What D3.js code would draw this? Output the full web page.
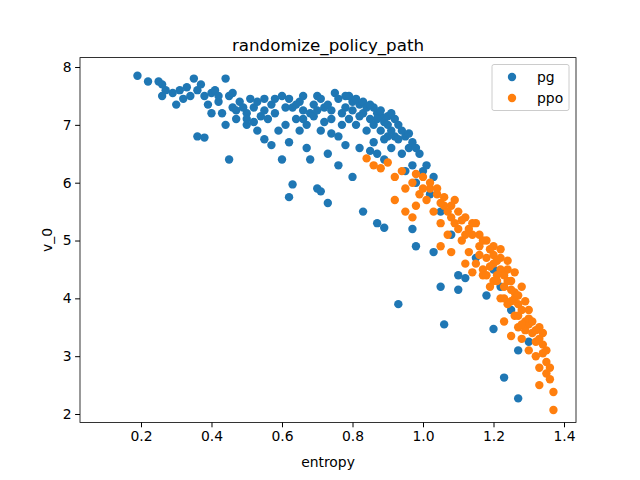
<!DOCTYPE html>
<html><head><meta charset="utf-8">
<script src="https://cdn.jsdelivr.net/npm/d3@7"></script>
<style>body{margin:0;background:#fff}text{font-family:"DejaVu Sans",sans-serif}</style>
</head><body><svg id="c" width="640" height="480"></svg>
<script>
// values: [entropy, v_0]
var pg = [[0.19,7.85],[0.22,7.75],[0.25,7.75],[0.26,7.7],[0.27,7.6],[0.26,7.5],[0.29,7.55],[0.3,7.35],[0.31,7.6],[0.32,7.45],[0.33,7.65],[0.35,7.8],[0.36,7.6],[0.37,7.7],[0.38,7.5],[0.4,7.55],[0.39,7.35],[0.41,7.6],[0.42,7.4],[0.43,7.2],[0.44,7.8],[0.45,7.5],[0.46,7.3],[0.47,7.1],[0.48,7.4],[0.5,7.2],[0.5,7.0],[0.52,7.3],[0.53,6.9],[0.55,7.45],[0.56,7.1],[0.57,6.65],[0.58,7.2],[0.6,7.5],[0.61,7.0],[0.62,6.7],[0.63,7.3],[0.65,7.4],[0.66,7.1],[0.67,6.6],[0.68,7.2],[0.7,7.5],[0.71,6.9],[0.72,7.3],[0.73,6.5],[0.74,7.1],[0.75,7.55],[0.76,6.8],[0.78,7.3],[0.8,7.4],[0.81,7.0],[0.82,6.6],[0.83,7.2],[0.85,7.1],[0.86,6.7],[0.87,7.2],[0.88,6.9],[0.89,6.4],[0.9,7.0],[0.91,6.6],[0.92,6.8],[0.94,6.5],[0.95,6.2],[0.96,6.6],[0.97,6.3],[0.98,6.0],[1.0,6.2],[1.02,5.8],[1.05,5.5],
  [0.36,6.8],[0.38,6.78],[0.45,6.4],[0.62,5.75],[0.63,5.97],[0.7,5.9],[0.71,5.85],[0.73,5.65],[0.83,5.5],[0.87,5.3],[0.89,5.22],[0.93,3.9],[0.97,5.2],[0.98,4.9],[1.03,4.8],[1.05,4.2],[1.06,3.55],[1.1,4.4],[1.1,4.15],[1.12,4.35],[1.18,4.05],[1.2,3.47],[1.23,2.63],[1.27,2.27],[1.27,3.1],[1.3,3.25],[1.08,5.1],[1.15,4.7],[1.2,4.5],[1.22,4.2],[1.25,3.8],
  [0.34,7.5],[0.4,7.2],[0.44,7.0],[0.49,7.3],[0.51,7.45],[0.54,7.15],[0.57,7.35],[0.59,6.9],[0.6,6.4],[0.64,7.1],[0.66,7.5],[0.69,7.35],[0.72,7.05],[0.77,7.2],[0.79,7.5],[0.82,7.35],[0.84,6.9],[0.86,7.3],[0.88,7.15],[0.9,6.8],[0.93,7.0],[0.95,6.8],[0.99,6.5],[1.01,6.3],[1.03,6.1],[0.8,6.1],[0.76,6.3],[0.68,6.4],
  [0.42,7.5],[0.46,7.55],[0.47,7.25],[0.5,7.1],[0.52,7.05],[0.53,7.4],[0.55,7.25],[0.58,7.45],[0.61,7.3],[0.62,7.45],[0.64,7.35],[0.66,7.25],[0.67,7.0],[0.69,7.15],[0.7,7.25],[0.71,7.45],[0.73,7.35],[0.74,7.25],[0.76,7.45],[0.77,7.0],[0.78,7.5],[0.79,7.1],[0.8,7.25],[0.81,7.45],[0.82,7.15],[0.83,7.4],[0.84,7.3],[0.85,7.35],[0.86,7.0],[0.87,7.1],[0.88,7.25],[0.89,7.05],[0.9,7.15],[0.91,6.9],[0.92,7.1],[0.93,6.75],[0.94,6.9],[0.96,6.85],[0.97,6.7],[0.98,6.6],[0.91,7.2],[0.89,6.75],[0.87,6.5],[0.85,6.55],[0.78,6.65],[0.74,6.85],[0.65,6.9],[0.55,6.75]];
var ppo = [[0.84,6.42],[0.86,6.3],[0.88,6.25],[0.9,6.35],[0.92,6.1],[0.94,6.2],[0.95,5.9],[0.97,6.0],[0.98,5.6],[0.99,5.8],[1.0,6.1],[1.01,5.7],[1.02,5.9],[1.03,5.5],[1.04,5.8],[1.05,5.3],[1.06,5.6],[1.07,5.1],[1.08,5.4],[1.09,5.7],[1.1,5.2],[1.11,5.0],[1.12,5.4],[1.13,4.8],[1.14,5.1],[1.15,4.6],[1.15,5.3],[1.16,4.9],[1.17,4.4],[1.18,4.7],[1.18,5.0],[1.19,4.2],[1.2,4.6],[1.2,4.9],[1.21,4.4],[1.22,4.0],[1.22,4.7],[1.23,4.2],[1.24,4.5],[1.24,3.9],[1.25,4.3],[1.26,3.7],[1.26,4.1],[1.27,3.5],[1.27,3.9],[1.28,4.2],[1.28,3.3],[1.29,3.6],[1.3,3.8],[1.3,3.1],[1.31,3.4],[1.32,3.0],[1.33,3.5],[1.33,2.8],[1.34,3.2],[1.35,2.7],[1.35,2.9],[1.36,2.6],[1.37,2.38],[1.37,2.07],[1.33,2.5],[1.05,4.9],[1.08,4.8],[1.12,4.6],[0.95,5.5],[0.92,5.7],[0.97,5.4],[1.14,4.45],[1.17,4.5],[1.2,4.3],[1.23,3.6],[1.25,3.35],[1.3,3.55],[1.32,3.25],
  [1.02,6.0],[1.04,5.9],[1.06,5.75],[1.08,5.6],[1.1,5.5],[1.11,5.35],[1.13,5.2],[1.14,5.3],[1.16,5.1],[1.17,5.0],[1.19,4.85],[1.2,4.75],[1.21,4.65],[1.22,4.5],[1.23,4.4],[1.24,4.3],[1.25,4.15],[1.26,4.0],[1.27,4.05],[1.28,3.8],[1.29,3.95],[1.29,3.45],[1.3,3.65],[1.31,3.6],[1.32,3.45],[1.33,3.3],[1.34,3.05],[1.34,3.4],[1.35,3.1],[1.36,2.8],[1.21,4.3],[1.23,4.0],[1.25,3.95],[1.27,3.7],[1.19,4.55],[1.16,4.75],[1.26,4.45],[1.24,4.65],[1.22,4.85],[1.12,5.1],[1.09,5.3],[1.07,5.5],[1.05,5.65],[1.0,5.9],[0.98,6.15],[1.18,4.4],[1.28,3.55]];
var xTicks = [0.2,0.4,0.6,0.8,1.0,1.2,1.4];
var yTicks = [2,3,4,5,6,7,8];

var svg = d3.select('#c');
var L=80,R=576,T=57.6,B=422.4;
var x = d3.scaleLinear().domain([0.027,1.434]).range([L,R]);
var y = d3.scaleLinear().domain([1.855,8.163]).range([B,T]);

function dots(data,color){
  svg.append('g').selectAll('circle').data(data).enter().append('circle')
    .attr('cx',function(d){return x(d[0])}).attr('cy',function(d){return y(d[1])})
    .attr('r',4.2).attr('fill',color);
}
dots(pg,'#1f77b4');
dots(ppo,'#ff7f0e');

var xa = svg.append('g').attr('transform','translate(0,'+B+')')
  .call(d3.axisBottom(x).tickValues(xTicks).tickFormat(d3.format('.1f')).tickSizeOuter(0).tickSize(4.9).tickPadding(3.5));
var ya = svg.append('g').attr('transform','translate('+L+',0)')
  .call(d3.axisLeft(y).tickValues(yTicks).tickFormat(d3.format('d')).tickSizeOuter(0).tickSize(4.9).tickPadding(3.5));
[xa,ya].forEach(function(a){a.selectAll('text').attr('font-size',13.9).attr('fill','#000');a.select('.domain').remove();});
svg.append('rect').attr('x',L).attr('y',T).attr('width',R-L).attr('height',B-T)
  .attr('fill','none').attr('stroke','#000').attr('stroke-width',0.8);

svg.append('text').attr('x',(L+R)/2).attr('y',T-7).attr('text-anchor','middle').attr('font-size',16.7).text('randomize_policy_path');
svg.append('text').attr('x',(L+R)/2).attr('y',467).attr('text-anchor','middle').attr('font-size',13.9).text('entropy');
svg.append('text').attr('transform','translate(52,'+(T+B)/2+') rotate(-90)').attr('text-anchor','middle').attr('font-size',13.9).text('v_0');

var lg = svg.append('g');
lg.append('rect').attr('x',492).attr('y',64.5).attr('width',77).attr('height',46).attr('rx',2)
  .attr('fill','#fff').attr('fill-opacity',0.8).attr('stroke','#ccc');
[['pg','#1f77b4'],['ppo','#ff7f0e']].forEach(function(s,i){
  lg.append('circle').attr('cx',512).attr('cy',77+i*21).attr('r',4.2).attr('fill',s[1]);
  lg.append('text').attr('x',537).attr('y',82+i*21).attr('font-size',13.9).text(s[0]);
});
</script></body></html>
